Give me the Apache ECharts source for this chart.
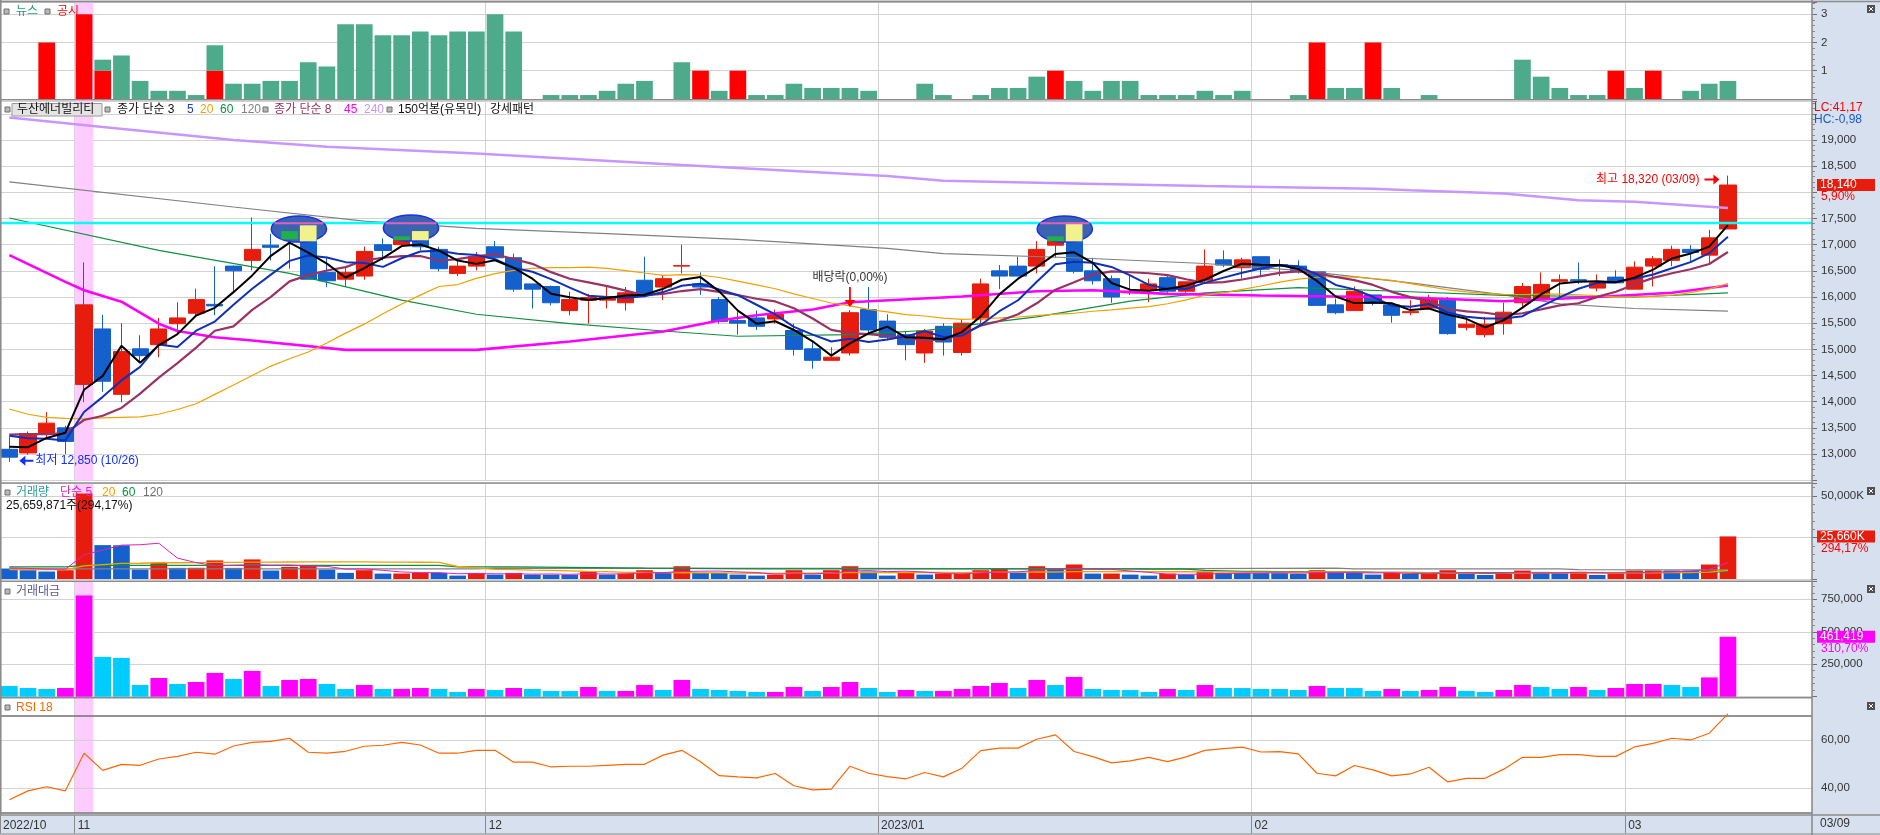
<!DOCTYPE html>
<html><head><meta charset="utf-8"><title>두산에너빌리티</title>
<script src="https://cdn.jsdelivr.net/npm/echarts@6.0.0/dist/echarts.min.js"></script>
<style>html,body{margin:0;padding:0;background:#fff;}#chart{width:1880px;height:835px;}</style>
</head><body><div id="chart"></div>
<script>
// ---------------- DATA ----------------
const dates = ['2022-10-26','2022-10-27','2022-10-28','2022-10-31',
'2022-11-01','2022-11-02','2022-11-03','2022-11-04','2022-11-07','2022-11-08','2022-11-09','2022-11-10','2022-11-11','2022-11-14','2022-11-15','2022-11-16','2022-11-17','2022-11-18','2022-11-21','2022-11-22','2022-11-23','2022-11-24','2022-11-25','2022-11-28','2022-11-29','2022-11-30',
'2022-12-01','2022-12-02','2022-12-05','2022-12-06','2022-12-07','2022-12-08','2022-12-09','2022-12-12','2022-12-13','2022-12-14','2022-12-15','2022-12-16','2022-12-19','2022-12-20','2022-12-21','2022-12-22','2022-12-23','2022-12-26','2022-12-27','2022-12-28','2022-12-29',
'2023-01-02','2023-01-03','2023-01-04','2023-01-05','2023-01-06','2023-01-09','2023-01-10','2023-01-11','2023-01-12','2023-01-13','2023-01-16','2023-01-17','2023-01-18','2023-01-19','2023-01-20','2023-01-25','2023-01-26','2023-01-27','2023-01-30','2023-01-31',
'2023-02-01','2023-02-02','2023-02-03','2023-02-06','2023-02-07','2023-02-08','2023-02-09','2023-02-10','2023-02-13','2023-02-14','2023-02-15','2023-02-16','2023-02-17','2023-02-20','2023-02-21','2023-02-22','2023-02-23','2023-02-24','2023-02-27','2023-02-28',
'2023-03-02','2023-03-03','2023-03-06','2023-03-07','2023-03-08','2023-03-09'];
const emptySlots = ['p1','p2','p3','p4'];

const priceOpen = [13090,13020,13380,13500,14330,15390,14140,15010,15090,15490,
15690,15860,16590,16700,16990,17100,17370,16470,16340,16400,
17000,17000,17260,16910,16450,16590,16960,16750,16250,16200,
15740,15940,15940,15890,16320,16190,16590,16250,15950,15550,
15600,15580,15360,15010,14790,14930,15760,15540,15280,14930,
15440,14940,15580,16500,16590,16590,16990,17420,16500,16350,
16080,16140,16370,16110,16320,16710,16560,16770,16620,16590,
16480,15850,15740,16040,15850,15700,15790,15970,15420,15280,
15490,15890,15950,16300,16330,16170,16380,16150,16590,16700,
16910,16800,17300];
const priceClose = [12940,13390,13590,13240,15850,14390,14960,14880,15390,15600,
15950,15830,16500,16910,16950,17260,16340,16310,16470,16870,
16890,17160,16960,16540,16590,16770,16750,16150,16150,15890,
15950,15990,16010,16080,16040,16350,16600,16190,15530,15500,
15440,15670,15000,14790,14850,15700,15370,15230,15090,15350,
15140,15500,16250,16400,16400,16910,17160,16490,16310,16000,
16110,16250,16110,16290,16590,16610,16710,16530,16590,16490,
15840,15700,16110,15880,15650,15720,15970,15300,15480,15480,
15710,16200,16240,16330,16310,16270,16270,16570,16730,16910,
16850,17130,18140];
const priceLow = [12850,12990,13290,13000,13990,14190,13990,14770,14850,15300,
15650,15650,16080,16510,16700,16540,16340,16190,16190,16330,
16700,16960,16890,16490,16400,16510,16700,16100,15780,15840,
15650,15490,15780,15740,16000,15940,16450,16040,15490,15280,
15370,15490,14880,14630,14790,14880,15310,15170,14790,14740,
14880,14880,15460,16150,16400,16450,16750,16450,16240,15890,
16040,15900,16080,16080,16270,16570,16350,16410,16400,16450,
15840,15670,15740,15840,15510,15650,15780,15280,15360,15230,
15280,15780,15940,16000,16250,16110,16270,16150,16200,16590,
16670,16640,17300];
const priceHigh = [13330,13430,13800,13540,16660,15660,15500,15270,15600,15900,
16160,16590,16600,17520,17210,17310,17450,16770,16570,16960,
17120,17280,17470,16960,16700,16860,17070,16830,16250,16220,
16100,16060,16190,16190,16770,16410,17000,16470,16000,15740,
15740,15760,15490,15140,15040,15750,16190,15670,15350,15390,
15500,15580,16350,16610,16770,17070,17180,17450,16750,16410,
16410,16350,16410,16290,16910,16890,16750,16770,16720,16700,
16480,15970,16200,16040,15850,15940,16040,16000,15620,15620,
15890,16270,16470,16430,16660,16430,16510,16680,16780,16980,
16990,17280,18320];

// moving-average start values (before the window is full)
const ma3Head = [13140,13130];
const ma5Head = [13350,13300,13290,13260];
const ma8Head = [13370,13380,13380,13400,13650,13730,13880];
const ma20Head = [13860,13760,13700,13680,13670,13690,13700,13710,13760,13850,13960,14140,14320,14500,14680,14820,14950,15120,15310];
// long moving averages [candle index, value]
const ma45Pts = [[0,16800],[3,16290],[4,16130],[6,15910],[8,15490],[9,15350],[11,15230],[13,15170],[18,14990],[25,14990],[30,15150],[35,15340],[38,15550],[40,15650],[43,15760],[45,15900],[51,16010],[55,16110],[58,16130],[62,16060],[67,16030],[75,15990],[80,15920],[85,16000],[89,16080],[92,16220]];
const ma60Pts = [[0,17510],[8,16890],[15,16450],[21,15940],[25,15670],[30,15490],[35,15350],[39,15250],[45,15280],[49,15360],[52,15490],[55,15620],[60,15920],[64,16080],[69,16180],[75,16100],[80,16030],[87,16000],[92,16080]];
const ma120Pts = [[0,18200],[12,17720],[19,17450],[25,17310],[32,17210],[39,17100],[47,16930],[50,16830],[57,16750],[64,16640],[69,16510],[75,16270],[80,16040],[83,15870],[87,15780],[92,15730]];
const ma240Pts = [[0,19430],[5,19250],[12,19000],[17,18870],[25,18740],[35,18540],[47,18310],[50,18220],[57,18170],[64,18120],[73,18070],[75,18040],[80,17980],[84,17850],[87,17820],[92,17700]];

// volume, thousand shares
const volumeK = [6300,5300,4500,5300,51500,20400,20300,5700,9800,6700,
6750,11200,6700,11800,5100,7300,8100,5700,3700,5300,
3250,3300,3700,3650,2050,3650,2650,3650,2650,2600,
2550,4500,2650,3250,5300,3650,7700,3650,3600,2650,
2050,2650,5300,2650,5300,7700,4500,2050,4100,2650,
3250,3300,5300,6100,3650,7700,6100,8750,3250,3300,
2650,2050,3250,2650,4500,3650,3600,3550,3500,3050,
5300,3650,3600,2650,3650,3050,3100,5300,3250,2450,
3050,5100,4300,3450,4300,2450,3450,5100,5150,5100,
5050,8722.7,25659.871];
const volMa5Head = [6700,6400,6000,5900];
const volMa20Head = [5700,5650,5600,5650,7950,8700,9450,9500,9800,9800,9850,10000,10000,10200,10200,10250,10300,10300,10300];
const volMa60HeadPts = [[0,7300],[3,7300],[4,8150],[23,8150],[24,7330],[27,7330],[34,6500],[40,6110],[58,6110]];
const volMa120Pts = [[0,6100],[25,6100],[26,6600],[44,6400],[59,6150],[71,6500],[72,6100],[83,6100],[84,5600],[92,5550]];

// trading value, million won
const tradeValue = [82500,67000,59300,67000,778300,306700,298900,90200,144300,97900,
113400,183000,136600,198400,82500,128900,136600,97900,59300,90200,
59300,60000,67000,59300,36100,59300,51500,67000,59300,43800,
43500,74700,43800,44000,90200,51500,128900,59300,51500,43800,
36100,36500,74700,43800,74700,113400,67000,36100,51500,43800,
44300,59300,82500,105700,67000,128900,90200,152000,59300,51500,
51000,36100,59300,51500,90200,67000,66500,59300,59000,51500,
82500,67000,66500,43800,59300,43800,51500,74700,43800,36100,
51500,90200,74700,59300,74700,51500,67000,97900,98500,90200,
74700,148510,461419];

const rsi18 = [35.2,38.9,40.6,38.9,54.5,47.4,49.9,49.5,52.1,53.2,
54.9,54.1,57.5,59.0,59.4,60.7,54.9,54.5,55.3,57.4,
57.8,59.0,57.9,54.5,54.5,55.7,55.7,50.8,50.8,48.8,
49.1,49.1,49.5,49.9,49.9,53.7,55.7,51.0,45.2,44.7,
44.3,46.1,41.0,39.3,39.6,49.1,46.2,44.8,43.9,46.5,
44.7,48.3,55.6,56.6,56.6,60.3,62.1,55.2,53.1,50.5,
51.3,52.8,51.0,53.0,55.7,56.4,57.0,55.0,55.2,54.2,
46.2,45.1,49.4,47.6,45.1,45.9,48.7,42.6,44.1,44.1,
47.9,52.8,52.8,53.9,53.9,53.2,53.2,57.1,58.6,60.7,
60.0,62.8,70.8];

// news panel
const disclosureCount = [0,0,2,0,3,1,0,0,0,0, 0,1,0,0,0,0,0,0,0,0, 0,0,0,0,0,0,0,0,0,0,
0,0,0,0,0,0,0,1,0,1, 0,0,0,0,0,0,0,0,0,0, 0,0,0,0,0,0,1,0,0,0,
0,0,0,0,0,0,0,0,0,0, 2,0,0,2,0,0,0,0,0,0, 0,0,0,0,0,0,1,0,1,0, 0,0,0];
const newsCount = [0,0,0,0,0,0.39,1.54,0.64,0.29,0.29, 0.14,0.9,0.54,0.54,0.64,0.64,1.30,1.15,2.64,2.64,
2.25,2.25,2.39,2.25,2.39,2.39,3.0,2.39,0,0.14, 0.14,0.14,0.29,0.54,0.64,0,1.30,0,0.29,0,
0.14,0.14,0.54,0.39,0.39,0.39,0.29,0,0,0.54, 0.14,0,0.14,0.39,0.39,0.79,0,0.64,0.29,0.64,
0.64,0.14,0.14,0.14,0.29,0.14,0.29,0,0,0.14, 0,0.39,0.39,0,0.39,0,0.14,0,0,0,
0,1.39,0.79,0.39,0.14,0.14,0,0.39,0,0, 0.29,0.54,0.64];

const patternStarts = [15, 21, 56];          // 강세패턴: first candle of each marked pair
const cyanLineLevel = 17410;                 // user horizontal line
const highlightDate = '2022-11-01';
const exDividendDate = '2022-12-28';
const indicatorLC = 'LC:41,17', indicatorHC = 'HC:-0,98';

// ---------------- HELPERS ----------------
const FONT = "'Liberation Sans','Noto Sans CJK KR',sans-serif";
const RED = '#e81c0c', BLUE = '#1460cc';
const N = dates.length, LAST = N - 1;
const cats = dates.concat(emptySlots);
const fmt = v => Math.round(v).toLocaleString('en-US');
const pct = v => v.toFixed(2).replace('.', ',') + '%';
const mmdd = d => d.slice(5).replace('-', '/');
function sma(src, n, head) {
  return src.map((v, i) => {
    if (i < n - 1) return head[i] !== undefined ? head[i] : null;
    let s = 0; for (let k = i - n + 1; k <= i; k++) s += src[k];
    return Math.round(s / n);
  });
}
function sparse(pts, len) { const a = new Array(len).fill(null); pts.forEach(p => { a[p[0]] = p[1]; }); return a; }

const monthStarts = dates.map((d, i) => (i > 0 && d.slice(5, 7) !== dates[i - 1].slice(5, 7)) ? i : -1).filter(i => i >= 0);
const monthSet = new Set(monthStarts);
const labelOf = {};
[0].concat(monthStarts).forEach(i => {
  const y = dates[i].slice(0, 4), m = dates[i].slice(5, 7);
  labelOf[i] = (i === 0 || y !== dates[i - 1].slice(0, 4)) ? (y + '/' + m) : m;
});
const boundVals = [0].concat(monthStarts).map(i => i - 0.5);
const hlIdx = dates.indexOf(highlightDate);
const exIdx = dates.indexOf(exDividendDate);
let hiIdx = 0, loIdx = 0;
priceHigh.forEach((v, i) => { if (v > priceHigh[hiIdx]) hiIdx = i; });
priceLow.forEach((v, i) => { if (v < priceLow[loIdx]) loIdx = i; });

const grids = [
  { left: 0, right: 68, top: 2, height: 97 },
  { left: 0, right: 68, top: 100.75, height: 379.42 },
  { left: 0, right: 68, top: 483, height: 96 },
  { left: 0, right: 68, top: 581.5, height: 115.2 },
  { left: 0, right: 68, top: 698, height: 114.3 }
].map(g => Object.assign(g, { containLabel: false, outerBoundsMode: 'none' }));

function catAxis(gi) {
  return { type: 'category', gridIndex: gi, data: cats, boundaryGap: true,
    axisLine: { show: false }, axisTick: { show: false }, axisLabel: { show: false },
    splitLine: { show: true, interval: (idx) => monthSet.has(idx), lineStyle: { color: '#d2d2d2', width: 1 } } };
}
function yAxisBase(gi, extra) {
  return Object.assign({ type: 'value', gridIndex: gi, position: 'right',
    axisLine: { show: false },
    axisTick: { show: true, length: 5, lineStyle: { color: '#707070' } },
    minorTick: { show: true, splitNumber: 5, length: 3, lineStyle: { color: '#8a8a8a' } },
    splitLine: { show: true, lineStyle: { color: '#d2d2d2', width: 1 } },
    axisLabel: { color: '#333', fontSize: 11.5, margin: 9, fontFamily: FONT } }, extra);
}
function highlightSeries(gi) {
  return { type: 'custom', xAxisIndex: gi, yAxisIndex: gi, z: 1, silent: true,
    data: [[hlIdx, 0]], encode: { x: 0, y: 1 },
    renderItem: (params, api) => {
      const cs = params.coordSys, bw = api.size([1, 0])[0];
      const x = api.coord([api.value(0), 0])[0];
      return { type: 'rect', shape: { x: x - bw / 2, y: cs.y, width: bw, height: cs.height }, style: { fill: '#ffccff' } };
    } };
}
function lineSeries(name, gi, data, color, width) {
  return { type: 'line', name, xAxisIndex: gi, yAxisIndex: gi, data, symbol: 'none', connectNulls: true,
    smooth: false, z: 3, silent: true, lineStyle: { color, width } };
}
function valueBox(value, boxText, pctText, bg, pctColor) {
  return { yAxis: value, lineStyle: { color: 'rgba(255,255,255,0)', width: 1, type: 'solid' },
    label: { show: true, position: 'end', distance: 5, opacity: 1,
      formatter: '{sp| }\n{box|' + boxText + '}\n{pct|' + pctText + '}',
      rich: {
        sp: { fontSize: 10, lineHeight: 12, height: 12 },
        box: { backgroundColor: bg, color: '#fff', fontSize: 12, fontFamily: FONT, width: 52, height: 12, lineHeight: 12, padding: [0, 3, 0, 3] },
        pct: { color: pctColor, fontSize: 12, fontFamily: FONT, lineHeight: 12, height: 12, padding: [0, 0, 0, 4] } } } };
}

// ---------------- SERIES ----------------
const candleData = dates.map((d, i) => [priceOpen[i], priceClose[i], priceLow[i], priceHigh[i]]);
const RIGHT_ARROW = 'path://M0,4 L9,4 L9,0 L15,5 L9,10 L9,6 L0,6 Z';
const LEFT_ARROW = 'path://M0,5 L6,0 L6,4 L14,4 L14,6 L6,6 L6,10 Z';
const DOWN_ARROW = 'path://M4.6,0 L6.4,0 L6.4,13 L11,13 L5.5,20 L0,13 L4.6,13 Z';

const series = [];
for (let g = 0; g < 5; g++) series.push(highlightSeries(g));

// news
series.push({ type: 'bar', name: '공시', xAxisIndex: 0, yAxisIndex: 0, stack: 'news', barWidth: 16.7, data: disclosureCount, itemStyle: { color: '#ff0000' }, silent: true });
series.push({ type: 'bar', name: '뉴스', xAxisIndex: 0, yAxisIndex: 0, stack: 'news', barWidth: 16.7, data: newsCount, itemStyle: { color: '#4dab8c' }, silent: true });

// price moving averages
series.push(lineSeries('MA240', 1, sparse(ma240Pts, N), '#c896ff', 2.5));
series.push(lineSeries('MA120', 1, sparse(ma120Pts, N), '#808080', 1.2));
series.push(lineSeries('MA60', 1, sparse(ma60Pts, N), '#109040', 1.2));
series.push(lineSeries('MA45', 1, sparse(ma45Pts, N), '#ff00ff', 2.6));
series.push(lineSeries('MA20', 1, sma(priceClose, 20, ma20Head), '#f0a000', 1.2));

// candles
series.push({ type: 'candlestick', name: '두산에너빌리티', xAxisIndex: 1, yAxisIndex: 1, data: candleData, barWidth: 16.7, z: 2, silent: true,
  itemStyle: { color: RED, color0: BLUE, borderColor: RED, borderColor0: BLUE, borderWidth: 1 },
  markLine: { silent: true, symbol: 'none', animation: false,
    data: [
      { yAxis: cyanLineLevel, lineStyle: { color: '#00ffff', width: 2.4, type: 'solid' }, label: { show: false } },
      valueBox(priceClose[LAST], fmt(priceClose[LAST]), pct((priceClose[LAST] / priceClose[LAST - 1] - 1) * 100), RED, '#ff0000')
    ] },
  markPoint: { silent: true, animation: false, data: [
    { coord: [hiIdx, priceHigh[hiIdx]], symbol: RIGHT_ARROW, symbolSize: [15, 10], symbolOffset: [-16, 4], itemStyle: { color: '#ff0000' },
      label: { show: true, position: 'left', distance: 5, formatter: '최고 ' + fmt(priceHigh[hiIdx]) + ' (' + mmdd(dates[hiIdx]) + ')', color: '#ff0000', fontSize: 12, fontFamily: FONT } },
    { coord: [loIdx, priceLow[loIdx]], symbol: LEFT_ARROW, symbolSize: [14, 10], symbolOffset: [17, -1], itemStyle: { color: '#1030ff' },
      label: { show: true, position: 'right', distance: 2, formatter: '최저 ' + fmt(priceLow[loIdx]) + ' (' + mmdd(dates[loIdx]) + ')', color: '#1030ff', fontSize: 12, fontFamily: FONT } },
    { coord: [exIdx, priceHigh[exIdx]], symbol: DOWN_ARROW, symbolSize: [11, 20], symbolOffset: [0, -13], itemStyle: { color: '#ff0000' },
      label: { show: true, position: 'top', distance: 3, formatter: '배당락(0,00%)', color: '#333', fontSize: 12, fontFamily: FONT } }
  ] } });

// short MAs above candles
series.push(lineSeries('MA8', 1, sma(priceClose, 8, ma8Head), '#993366', 2.2));
series.push(lineSeries('MA5', 1, sma(priceClose, 5, ma5Head), '#1030b8', 2));
series.push(lineSeries('MA3', 1, sma(priceClose, 3, ma3Head), '#000000', 2));

// bullish-pattern ellipses
series.push({ type: 'custom', name: '강세패턴', xAxisIndex: 1, yAxisIndex: 1, z: 6, silent: true,
  data: patternStarts.map(i => [i, Math.max(priceHigh[i], priceHigh[i + 1])]), encode: { x: 0, y: 1 },
  renderItem: (params, api) => {
    const i = api.value(0), hi = api.value(1);
    const p1 = api.coord([i, hi]), p2 = api.coord([i + 1, hi]);
    const bw = api.size([1, 0])[0];
    const cx = (p1[0] + p2[0]) / 2, cy = p1[1] + 8, rx = bw * 1.48, ry = 13;
    const children = [{ type: 'ellipse', shape: { cx, cy, rx, ry }, style: { fill: '#3a63b0', stroke: '#1b30f0', lineWidth: 1.5 } }];
    [i, i + 1].forEach(k => {
      const x = api.coord([k, hi])[0];
      const dx = (x - cx) / rx, half = ry * Math.sqrt(Math.max(0, 1 - dx * dx));
      const yo = api.coord([k, priceOpen[k]])[1], yc = api.coord([k, priceClose[k]])[1];
      const t = Math.max(Math.min(yo, yc), cy - half), b = Math.min(Math.max(yo, yc), cy + half);
      if (b > t) children.push({ type: 'rect', shape: { x: x - 8.35, y: t, width: 16.7, height: b - t },
        style: { fill: priceClose[k] > priceOpen[k] ? '#20b04a' : '#f2f28c' } });
    });
    const yl = api.coord([i, cyanLineLevel])[1], dy = (yl - cy) / ry;
    if (Math.abs(dy) < 1) {
      const hw = rx * Math.sqrt(1 - dy * dy);
      children.push({ type: 'line', shape: { x1: cx - hw, y1: yl, x2: cx + hw, y2: yl }, style: { stroke: '#e060c0', lineWidth: 2 } });
    }
    return { type: 'group', children };
  } });

// volume
series.push({ type: 'bar', name: '거래량', xAxisIndex: 2, yAxisIndex: 2, barWidth: 16.7, silent: true,
  data: volumeK.map((v, i) => ({ value: v, itemStyle: { color: (i > 0 && v > volumeK[i - 1]) ? RED : BLUE } })),
  markLine: { silent: true, symbol: 'none', animation: false,
    data: [valueBox(volumeK[LAST], fmt(volumeK[LAST]) + 'K', pct(volumeK[LAST] / volumeK[LAST - 1] * 100), RED, '#ff0000')] } });
series.push(lineSeries('V120', 2, sparse(volMa120Pts, N), '#808080', 1.3));
series.push(lineSeries('V60', 2, sma(volumeK, 60, sparse(volMa60HeadPts, 59)), '#0a9040', 1.3));
series.push(lineSeries('V20', 2, sma(volumeK, 20, volMa20Head), '#f0a000', 1.3));
series.push(lineSeries('V5', 2, sma(volumeK, 5, volMa5Head), '#e020c0', 1));

// trading value
series.push({ type: 'bar', name: '거래대금', xAxisIndex: 3, yAxisIndex: 3, barWidth: 16.7, silent: true,
  data: tradeValue.map((v, i) => ({ value: v, itemStyle: { color: (i > 0 && v > tradeValue[i - 1]) ? '#ff00ff' : '#00ccff' } })),
  markLine: { silent: true, symbol: 'none', animation: false,
    data: [valueBox(tradeValue[LAST], fmt(tradeValue[LAST]), pct(tradeValue[LAST] / tradeValue[LAST - 1] * 100), '#ff00ff', '#ff00ff')] } });

// RSI
series.push({ type: 'line', name: 'RSI 18', xAxisIndex: 4, yAxisIndex: 4, data: rsi18, symbol: 'none', z: 10, silent: true,
  lineStyle: { color: '#ff6600', width: 1.2 },
  markLine: { silent: true, symbol: 'none', animation: false, label: { show: false },
    data: [
      { yAxis: 70, lineStyle: { color: '#707070', width: 1.5, type: 'solid' } },
      { yAxis: 30, lineStyle: { color: '#707070', width: 1.5, type: 'solid' } },
      { yAxis: 60, lineStyle: { color: '#d2d2d2', width: 1, type: 'solid' } },
      { yAxis: 40, lineStyle: { color: '#d2d2d2', width: 1, type: 'solid' } }
    ] } });

// ---------------- GRAPHICS (frame, legends) ----------------
const G = [];
const gl = (x1, y1, x2, y2, c, w, z) => G.push({ type: 'line', silent: true, z: z || 50, shape: { x1, y1, x2, y2 }, style: { stroke: c, lineWidth: w } });
const gt = (x, y, text, color, size) => G.push({ type: 'text', silent: true, z: 60, x, y, style: { text, fill: color, font: (size || 12) + "px 'Liberation Sans','Noto Sans CJK KR',sans-serif", verticalAlign: 'middle', align: 'left' } });
const gsq = (x, y) => G.push({ type: 'rect', silent: true, z: 60, shape: { x, y, width: 5, height: 5 }, style: { fill: '#b8b8b8', stroke: '#707070', lineWidth: 1 } });
const gclose = (x, y) => { G.push({ type: 'rect', silent: true, z: 60, shape: { x, y, width: 8, height: 8 }, style: { fill: '#505050' } });
  gl(x + 2, y + 2, x + 6, y + 6, '#fff', 1, 61); gl(x + 6, y + 2, x + 2, y + 6, '#fff', 1, 61); };

G.push({ type: 'rect', silent: true, z: -1, shape: { x: 1812, y: 0, width: 68, height: 835 }, style: { fill: '#d6e0ee' } });
G.push({ type: 'rect', silent: true, z: -1, shape: { x: 0, y: 815, width: 1880, height: 20 }, style: { fill: '#d6e0ee' } });
[1.5, 99.8, 483, 581.2, 697.7].forEach(y => gl(0, y, 1812, y, '#8c8c8c', 1.6));
gl(0, 1.5, 1880, 1.5, '#8c8c8c', 1.6);
gl(0, 815, 1880, 815, '#8c8c8c', 1.5);
gl(0, 834, 1880, 834, '#8c8c8c', 1);
gl(1812, 0, 1812, 835, '#8c8c8c', 1.6);
gl(0.8, 0, 0.8, 815, '#8c8c8c', 1.6);

// news legend
gsq(4, 9); gt(16, 11.5, '뉴스', '#2a9a7a'); gsq(45, 9); gt(57, 11.5, '공시', '#ff0000');
// price legend
gsq(5, 107);
G.push({ type: 'rect', silent: true, z: 59, shape: { x: 12, y: 103.5, width: 90, height: 12.5 }, style: { fill: '#e4e4e4', stroke: '#9a9a9a', lineWidth: 1 } });
gt(17, 110, '두산에너빌리티', '#111');
gsq(105, 107); gt(117, 110, '종가 단순 3', '#111'); gt(187, 110, '5', '#1e3cc8'); gt(200, 110, '20', '#f0a000'); gt(220, 110, '60', '#0a9040'); gt(241, 110, '120', '#808080');
gsq(263, 107); gt(274, 110, '종가 단순 8', '#993366'); gt(344, 110, '45', '#ff00ff'); gt(364, 110, '240', '#c896ff');
gsq(387, 107); gt(398, 110, '150억봉(유목민)', '#111'); gt(490, 110, '강세패턴', '#111');
gt(1814, 108, indicatorLC, '#ff0000'); gt(1814, 120, indicatorHC, '#1a5ad0');
// volume legend
gsq(5, 490); gt(16, 492.5, '거래량', '#2a9a9a'); gt(60, 492.5, '단순 5', '#e020c0'); gt(102, 492.5, '20', '#f0a000'); gt(122, 492.5, '60', '#0a9040'); gt(143, 492.5, '120', '#707070');
gt(6, 505.5, fmt(volumeK[LAST] * 1000) + '주(' + pct(volumeK[LAST] / volumeK[LAST - 1] * 100) + ')', '#111');
// trading value legend
gsq(5, 589); gt(16, 591.5, '거래대금', '#5a5a90');
// RSI legend
gsq(5, 705); gt(16, 707.5, 'RSI 18', '#ff6600');
// last date
gt(1820, 823.5, mmdd(dates[LAST]), '#333');
gclose(1867, 5); gclose(1867, 487); gclose(1867, 585); gclose(1867, 702);

// ---------------- OPTION ----------------
const option = {
  animation: false,
  backgroundColor: '#ffffff',
  textStyle: { fontFamily: FONT },
  grid: grids,
  xAxis: [catAxis(0), catAxis(1), catAxis(2), catAxis(3), catAxis(4),
    { type: 'value', gridIndex: 4, min: -0.5, max: cats.length - 0.5, position: 'bottom', offset: 3,
      axisLine: { show: false }, splitLine: { show: false }, minorTick: { show: false },
      axisTick: { show: true, customValues: boundVals, length: 18, lineStyle: { color: '#8a8a8a', width: 1 } },
      axisLabel: { show: true, customValues: boundVals, align: 'left', margin: 4, padding: [0, 0, 0, 3], color: '#333', fontSize: 12, fontFamily: FONT,
        formatter: v => labelOf[Math.round(v + 0.5)] || '' } }],
  yAxis: [
    yAxisBase(0, { min: 0, max: 3.43, interval: 1, axisLabel: { color: '#333', fontSize: 11.5, margin: 9, fontFamily: FONT, formatter: v => (v > 0 && Number.isInteger(v)) ? String(v) : '' } }),
    yAxisBase(1, { min: 12500, max: 19750, interval: 500, axisLabel: { color: '#333', fontSize: 11.5, margin: 9, fontFamily: FONT, formatter: v => (v % 500 === 0 && v !== 12500 && v !== 18000 && v !== 19500) ? fmt(v) : '' } }),
    yAxisBase(2, { min: 0, max: 57830, interval: 25000, axisLabel: { color: '#333', fontSize: 11.5, margin: 9, fontFamily: FONT, formatter: v => v === 50000 ? fmt(v) + 'K' : '' } }),
    yAxisBase(3, { min: 0, max: 887000, interval: 250000, axisLabel: { color: '#333', fontSize: 11.5, margin: 9, fontFamily: FONT, formatter: v => (v > 0 && v % 250000 === 0) ? fmt(v) : '' } }),
    yAxisBase(4, { min: 30, max: 77.4, splitLine: { show: false }, minorTick: { show: false },
      axisTick: { show: false },
      axisLabel: { color: '#333', fontSize: 11.5, margin: 9, fontFamily: FONT, customValues: [40, 60], formatter: v => (v === 40 || v === 60) ? v.toFixed(2).replace('.', ',') : '' } })
  ],
  series,
  graphic: { elements: G }
};
const chart = echarts.init(document.getElementById('chart'), null, { renderer: 'canvas' });
chart.setOption(option);
</script></body></html>
